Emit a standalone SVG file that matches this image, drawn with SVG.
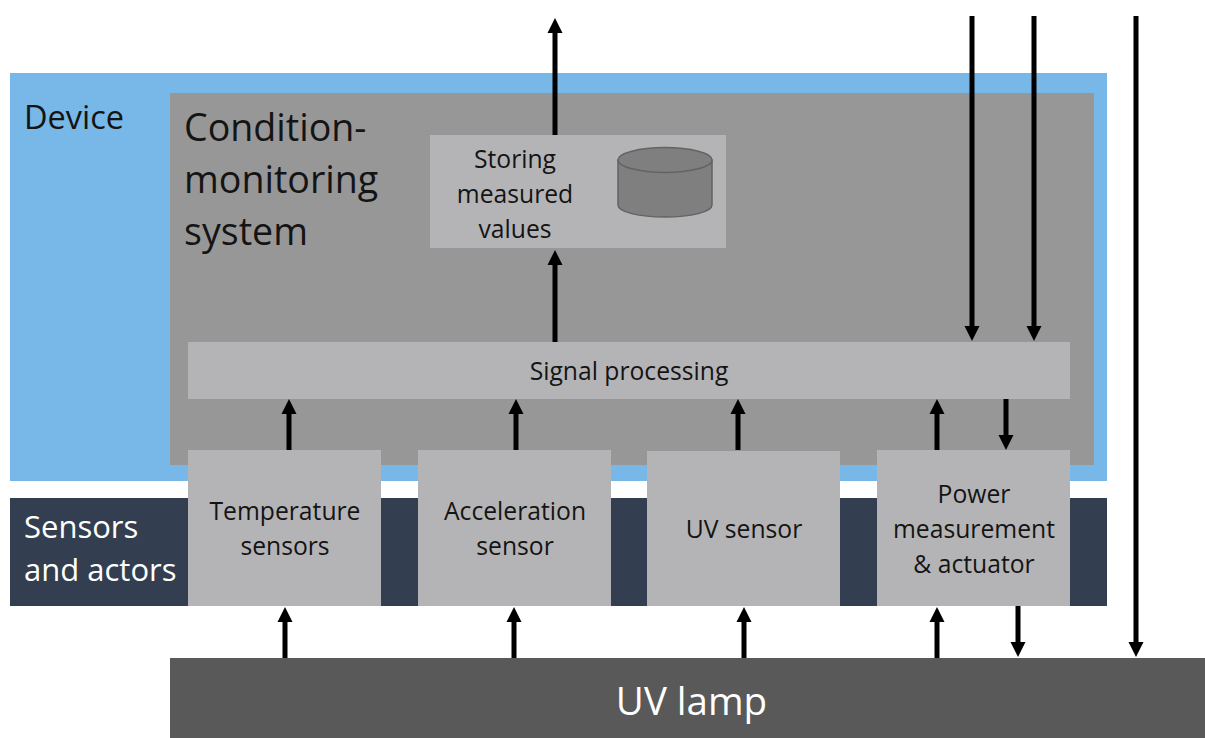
<svg xmlns="http://www.w3.org/2000/svg" width="1205" height="738" viewBox="0 0 1205 738">
<style>
text{font-family:"Open Sans","Noto Sans","Liberation Sans",sans-serif;text-anchor:middle;fill:#141414}
.b{fill:#b4b4b7}
.t{font-size:24.7px}
.h{font-size:37.6px;text-anchor:start}
.l{stroke:#000;stroke-width:5;fill:none;marker-end:url(#a)}
</style>
<defs><marker id="a" markerUnits="userSpaceOnUse" markerWidth="16" markerHeight="16" refX="5" refY="8" orient="auto"><path d="M0 0.5L15 8L0 15.5Z" fill="#000"/></marker></defs>
<rect width="1205" height="738" fill="#fff"/>
<g id="device"><rect x="10" y="73" width="1097" height="408" fill="#77b8e8"/><text x="24" y="129" style="font-size:32.5px;text-anchor:start">Device</text></g>
<g id="sensors-actors"><rect x="10" y="498" width="1097" height="108" fill="#333f50"/><text x="24" y="538" style="font-size:31px;text-anchor:start;fill:#fff">Sensors</text><text x="24" y="581" style="font-size:31px;text-anchor:start;fill:#fff">and actors</text></g>
<g id="cms"><rect x="170" y="93" width="924" height="372" fill="#979797"/><text class="h" x="184" y="141">Condition-</text><text class="h" x="184" y="193">monitoring</text><text class="h" x="184" y="245">system</text></g>
<g id="storing"><rect class="b" x="430" y="135" width="296" height="113"/><text class="t" x="515" y="168">Storing</text><text class="t" x="515" y="203">measured</text><text class="t" x="515" y="238">values</text>
<path d="M618 160V205C618 212 639 217 665 217S712 212 712 205V160Z" fill="#7f7f7f" stroke="#636363" stroke-width="1.5"/><ellipse cx="665" cy="160" rx="47" ry="12.5" fill="#7f7f7f" stroke="#636363" stroke-width="1.5"/></g>
<g id="signal"><rect class="b" x="188" y="342" width="882" height="57"/><text class="t" x="629" y="380">Signal processing</text></g>
<g id="temp"><rect class="b" x="188" y="450" width="193" height="156"/><text class="t" x="285" y="520">Temperature</text><text class="t" x="285" y="555">sensors</text></g>
<g id="accel"><rect class="b" x="418" y="450" width="193" height="156"/><text class="t" x="515" y="520">Acceleration</text><text class="t" x="515" y="555">sensor</text></g>
<g id="uvsensor"><rect class="b" x="647" y="451" width="193" height="155"/><text class="t" x="744" y="538">UV sensor</text></g>
<g id="power"><rect class="b" x="877" y="450" width="193" height="156"/><text class="t" x="974" y="503">Power</text><text class="t" x="974" y="538">measurement</text><text class="t" x="974" y="573">&amp; actuator</text></g>
<g id="lamp"><rect x="170" y="658" width="1035" height="80" fill="#595959"/><text x="691.500" y="715" style="font-size:38.500px;fill:#fff">UV lamp</text></g>
<g id="connectors">
<path class="l" d="M555 135V28"/><path class="l" d="M555 342V260"/>
<path class="l" d="M972 16V331"/><path class="l" d="M1034 16V331"/><path class="l" d="M1136 16V647"/>
<path class="l" d="M289 450V409"/><path class="l" d="M516 450V409"/><path class="l" d="M738 450V409"/><path class="l" d="M937 450V409"/><path class="l" d="M1006 399V440"/>
<path class="l" d="M285 658V617"/><path class="l" d="M514 658V617"/><path class="l" d="M744 658V617"/><path class="l" d="M937 658V617"/><path class="l" d="M1018 606V647"/>
</g>
</svg>
